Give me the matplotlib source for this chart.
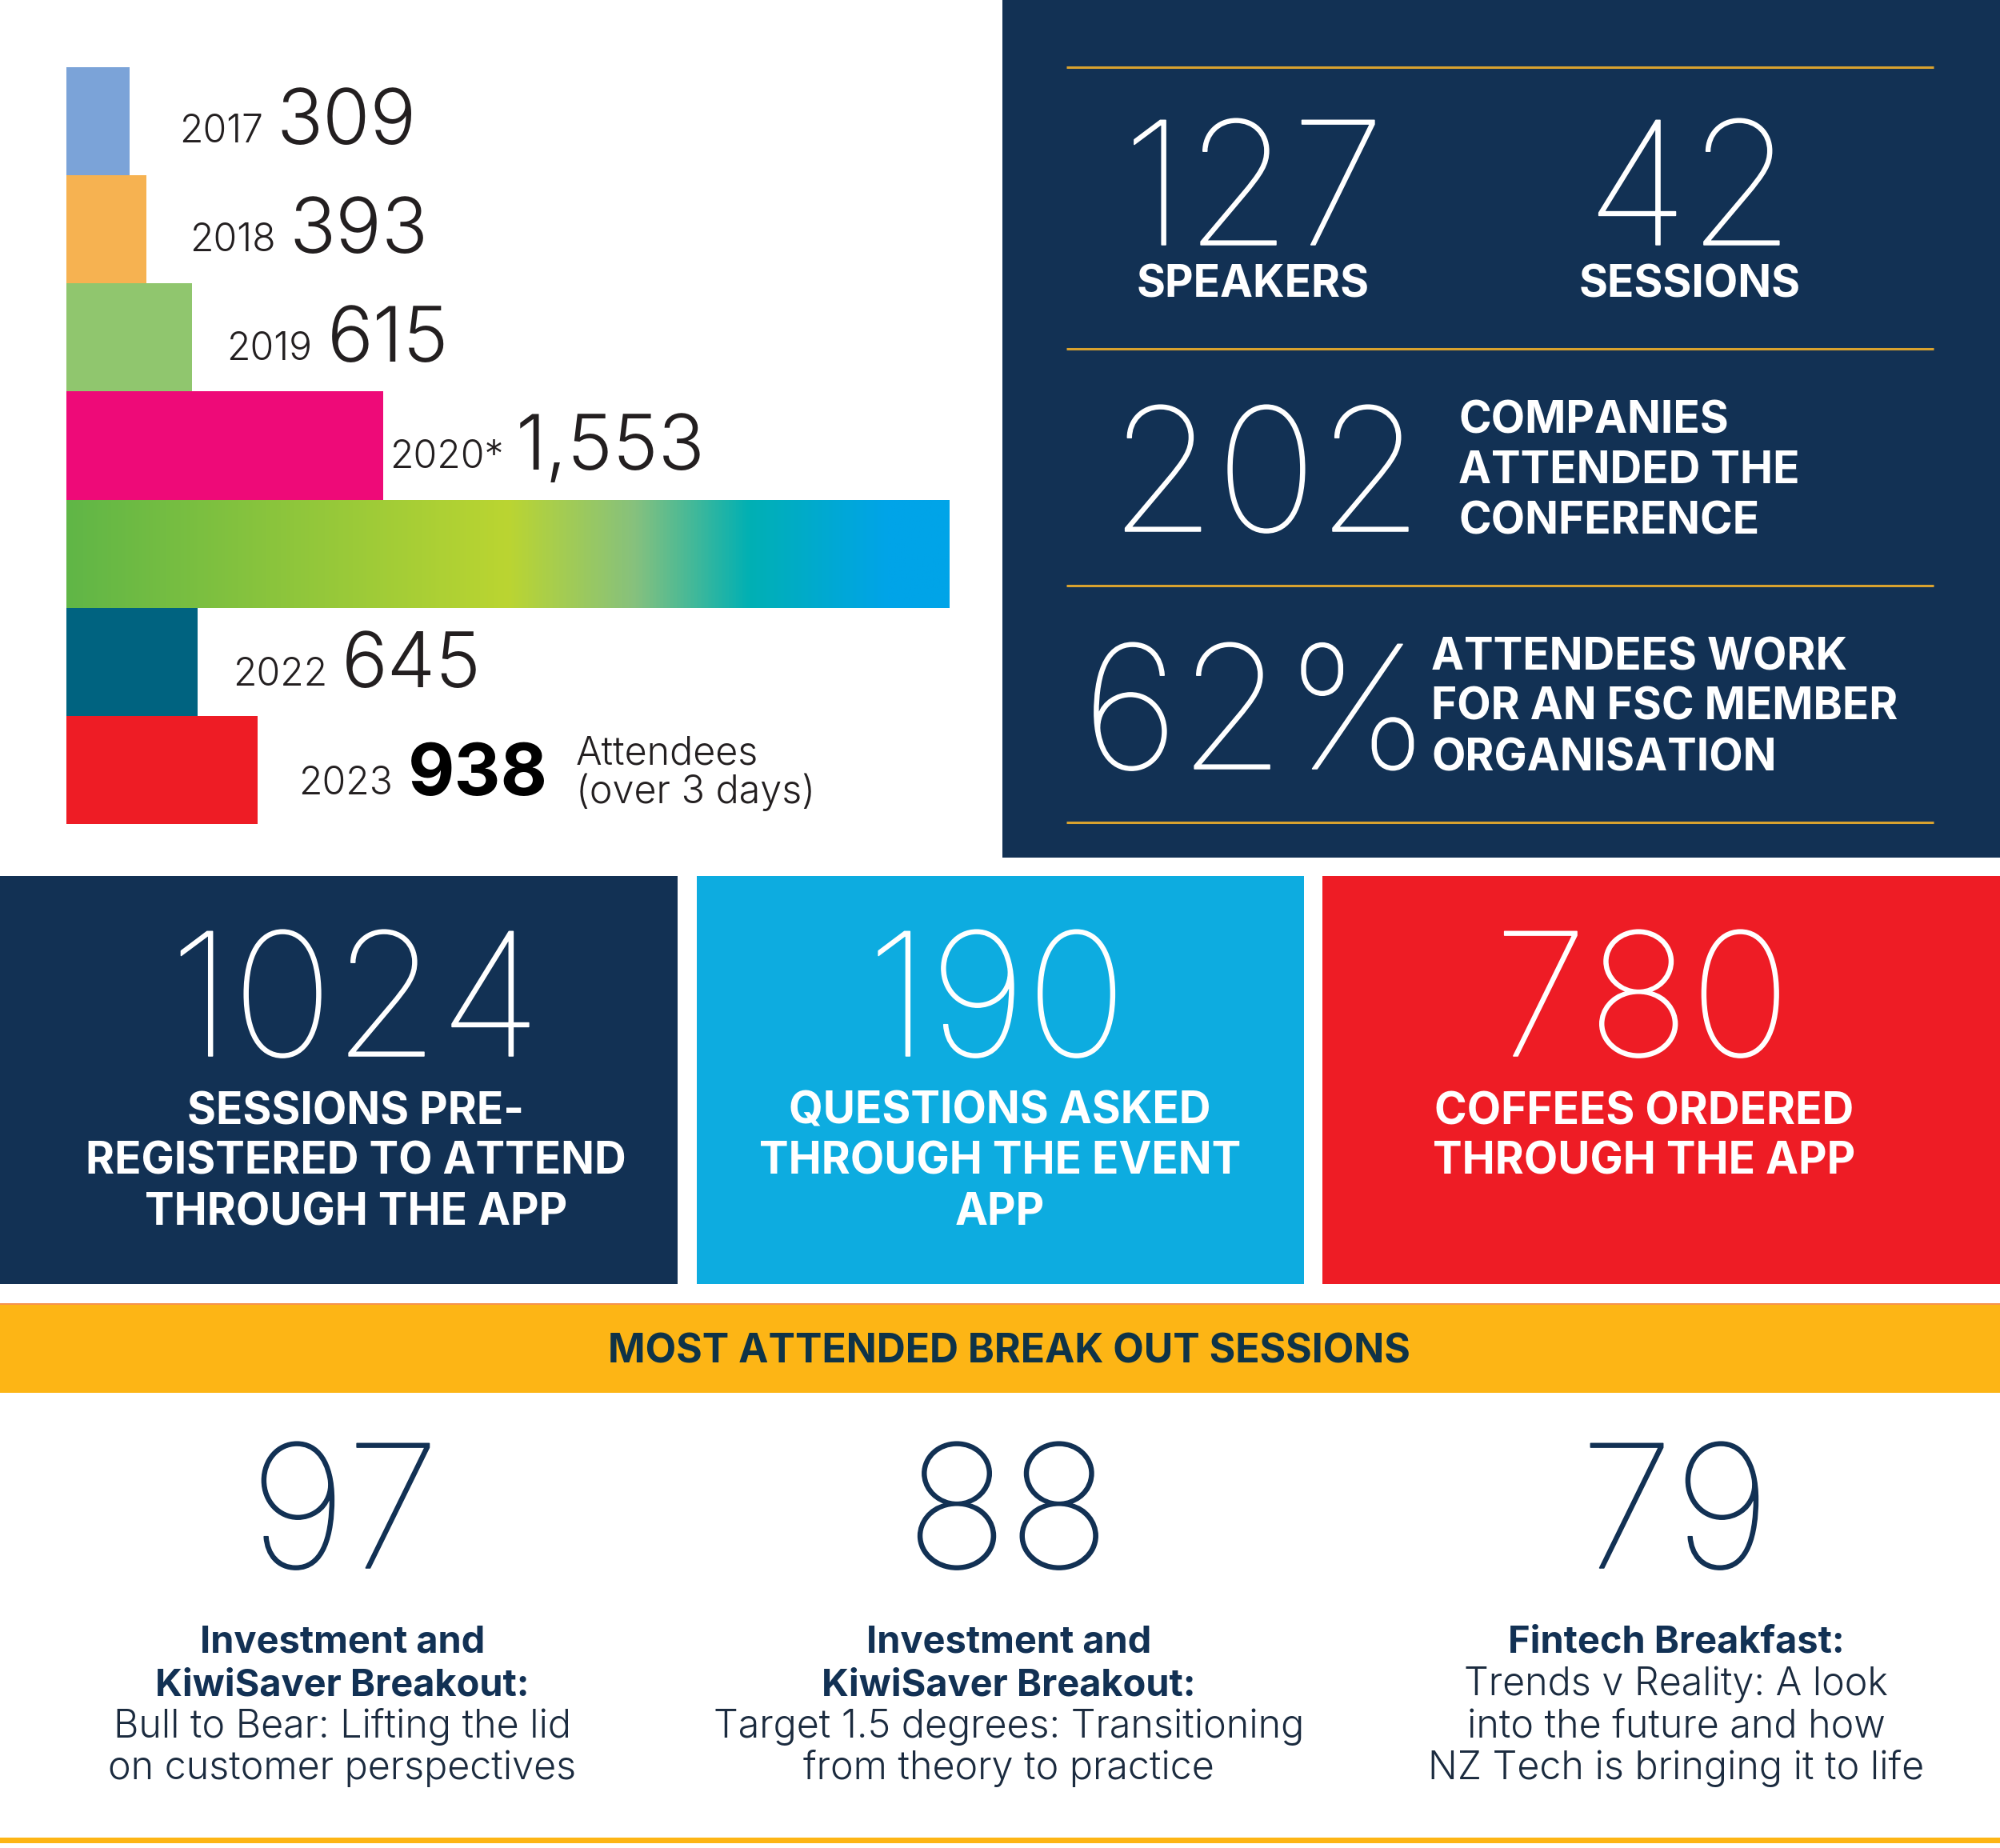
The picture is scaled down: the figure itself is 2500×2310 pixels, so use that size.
import numpy as np
import matplotlib
matplotlib.use('Agg')
import matplotlib.pyplot as plt
import matplotlib.patheffects as pe
from matplotlib.colors import LinearSegmentedColormap
from matplotlib.patches import Rectangle

# ---- data ----
years = ['2017', '2018', '2019', '2020*', '2021', '2022', '2023']
attendees = [309, 393, 615, 1553, 4330, 645, 938]
bar_colors = ['#7BA3D8', '#F6B251', '#90C66E', '#EE0A78', '#00A4E8', '#006380', '#EE1C25']
stat_speakers = 127
stat_sessions = 42
stat_companies = 202
stat_member_pct = 62
app_values = [1024, 190, 780]
breakout_values = [97, 88, 79]

NAVY2 = '#123154'
GOLD = '#D9A22F'
BLUE = '#0DACE0'
RED = '#EE1C25'
YELLOW = '#FDB515'
INK = '#231F20'

fig = plt.figure(figsize=(25, 23.1), dpi=100, facecolor='white')
W, H = 2500, 2310

# ---- overlay (pixel layout) ----
ov = fig.add_axes([0, 0, 1, 1], zorder=3)
ov.set_xlim(0, W); ov.set_ylim(H, 0); ov.axis('off'); ov.patch.set_alpha(0)

def T(x, y, s, em, weight, color, ha='center', thicken=0):
    t = ov.text(x, y, s, fontsize=em * 0.72, color=color, ha=ha, va='baseline',
                family='Inter', weight=weight, zorder=5)
    if thicken:
        t.set_path_effects([pe.withStroke(linewidth=thicken, foreground=color)])

def box(x0, y0, x1, y1, color, z=1):
    ov.add_patch(Rectangle((x0, y0), x1 - x0, y1 - y0, fc=color, ec='none', zorder=z))

# ---- attendees bar chart ----
ax = fig.add_axes([83 / W, 1 - 1030 / H, (1187 - 83) / W, (1030 - 84) / H], zorder=2)
ypos = np.arange(len(years))
bars = ax.barh(ypos, attendees, height=1.0, color=bar_colors, linewidth=0)
grad = LinearSegmentedColormap.from_list('g', [(0, '#60B647'), (0.5, '#BBD531'), (0.645, '#86C17E'),
                                               (0.775, '#00B0B4'), (0.93, '#00A4E8'), (1, '#00A4E8')])
im = ax.imshow(np.linspace(0, 1, 512)[None, :], cmap=grad, aspect='auto',
               extent=(0, attendees[4], 4.5, 3.5), zorder=2)
im.set_clip_path(bars[4])
ax.set_xlim(0, attendees[4]); ax.set_ylim(6.5, -0.5); ax.axis('off')

Y_EM, N_EM = 48, 96
year_pos = [(224, 178), (237, 314), (283, 450), (487, 585), None, (291, 857), (373, 993)]
num_pos = [(346, 180), (362, 316), (409, 452), (645, 587), None, (427, 859), (510, 994)]
for yr, v, yp, np_ in zip(years, attendees, year_pos, num_pos):
    if yp is None:
        continue
    T(yp[0], yp[1], yr, Y_EM, 300, INK, 'left')
    bold = yr == '2023'
    T(np_[0], np_[1], f'{v:,}', 90 if bold else N_EM, 700 if bold else 300, 'black' if bold else INK, 'left')
T(720, 955, 'Attendees', 48.5, 300, INK, 'left')
T(720, 1004, '(over 3 days)', 48.5, 300, INK, 'left')

# ---- navy stats panel ----
box(1253, 0, W, 1072, NAVY2)
for yl in (84, 436, 732, 1028):
    ov.plot([1333, 2417], [yl, yl], color=GOLD, lw=2.2, solid_capstyle='butt', zorder=3)
BIG = 214
TK = 1.1
T(1567, 306, str(stat_speakers), BIG, 100, 'white', thicken=TK)
T(2113, 306, str(stat_sessions), BIG, 100, 'white', thicken=TK)
CAP = 55
T(1566, 371, 'SPEAKERS', CAP, 700, 'white')
T(2112, 371, 'SESSIONS', CAP, 700, 'white')
T(1583, 664, str(stat_companies), BIG, 100, 'white', thicken=TK)
for y, s in zip((541, 604, 667), ('COMPANIES', 'ATTENDED THE', 'CONFERENCE')):
    T(1823, y, s, CAP, 700, 'white', 'left')
T(1570, 961, f'{stat_member_pct}%', BIG, 100, 'white', thicken=TK)
for y, s in zip((838, 900, 964), ('ATTENDEES WORK', 'FOR AN FSC MEMBER', 'ORGANISATION')):
    T(1789, y, s, CAP, 700, 'white', 'left')

# ---- three app boxes ----
box(0, 1095, 847, 1605, NAVY2)
box(871, 1095, 1630, 1605, BLUE)
box(1653, 1095, W, 1605, RED)
app_x = (444, 1246, 2053)
text_x = (445, 1250, 2055)
app_lines = [('SESSIONS PRE-', 'REGISTERED TO ATTEND', 'THROUGH THE APP'),
             ('QUESTIONS ASKED', 'THROUGH THE EVENT', 'APP'),
             ('COFFEES ORDERED', 'THROUGH THE APP')]
for v, xa, xt, lines in zip(app_values, app_x, text_x, app_lines):
    T(xa, 1320, str(v), BIG, 100, 'white', thicken=TK)
    for y, s in zip((1405, 1467, 1531), lines):
        T(xt, y, s, CAP, 700, 'white')

# ---- yellow band ----
box(0, 1629, W, 1741, YELLOW)
ov.plot([0, W], [1629.5, 1629.5], color='#F58C5A', lw=1.2, zorder=2)
T(1261, 1704, 'MOST ATTENDED BREAK OUT SESSIONS', 50, 700, '#0F3347')

# ---- break-out sessions ----
col_num = (431, 1260, 2094)
col_txt = (428, 1261, 2095)
session_bold = [('Investment and', 'KiwiSaver Breakout:'),
                ('Investment and', 'KiwiSaver Breakout:'),
                ('Fintech Breakfast:',)]
session_light = [('Bull to Bear: Lifting the lid', 'on customer perspectives'),
                 ('Target 1.5 degrees: Transitioning', 'from theory to practice'),
                 ('Trends v Reality: A look', 'into the future and how', 'NZ Tech is bringing it to life')]
BY = (2066, 2119, 2172, 2224)
for v, xn, xt, b, l in zip(breakout_values, col_num, col_txt, session_bold, session_light):
    T(xn, 1960, str(v), BIG, 100, NAVY2, thicken=TK)
    rows = [(s, 700) for s in b] + [(s, 300) for s in l]
    for y, (s, w) in zip(BY, rows):
        T(xt, y, s, 47 if w == 700 else 48.5, w, NAVY2 if w == 700 else '#1B2B3F')
box(0, 2297, W, 2304, YELLOW)

fig.savefig('out.png', dpi=100, facecolor='white')
